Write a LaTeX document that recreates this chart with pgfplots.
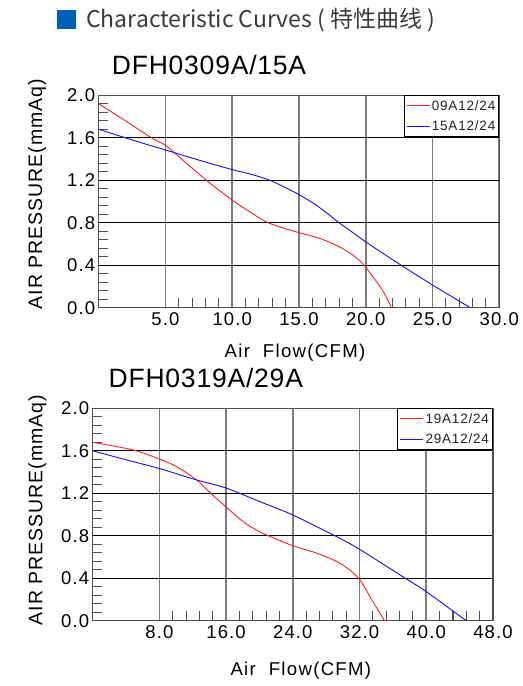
\documentclass[border=0pt]{standalone}
\usepackage{pgfplots}
\pgfplotsset{compat=1.18}
\usepackage{fontspec}
\setmainfont{Liberation Sans}
\newfontfamily\cjk{Noto Sans CJK SC}
\definecolor{hdrblue}{HTML}{0060B8}
\definecolor{hdrtext}{HTML}{3A3A3A}
\definecolor{vgrid}{HTML}{7C7C7C}
\definecolor{frame}{HTML}{505050}
\definecolor{cred}{HTML}{FF2020}
\definecolor{cblue}{HTML}{1010FF}
\definecolor{lgtext}{HTML}{222222}
\pgfplotsset{
  fanaxis/.style={
    scale only axis,
    height=212.4pt,
    ymin=0, ymax=2.0,
    ytick={0,0.4,0.8,1.2,1.6,2.0},
    minor y tick num=4,
    tick pos=left,
    tick align=inside,
    major tick length=0pt,
    minor tick length=9.5pt,
    xmajorgrids, ymajorgrids,
    x grid style={vgrid, line width=1.7pt},
    y grid style={black, line width=0.9pt},
    axis line style={frame, line width=1.4pt},
    minor tick style={frame, line width=1.1pt},
    /pgf/number format/assume math mode=true,
    /pgf/number format/.cd, fixed, fixed zerofill, precision=1, /pgfplots/.cd,
    tick label style={font=\fontsize{18.5}{18.5}\selectfont\addfontfeature{LetterSpace=6}},
    xticklabel style={yshift=-1pt},
    xlabel style={font=\fontsize{18.6}{18.6}\selectfont\addfontfeature{LetterSpace=7}},
    ylabel style={font=\fontsize{19.5}{19.5}\selectfont\addfontfeature{LetterSpace=5}},
    title style={font=\fontsize{26.5}{26.5}\selectfont\addfontfeature{LetterSpace=3}, anchor=west},
    legend cell align=left,
    legend style={draw=black, line width=1pt, fill=white,
      font=\fontsize{13.5}{13.5}\selectfont\addfontfeature{LetterSpace=6},
      text=lgtext,
      at={(rel axis cs:1,1)}, anchor=north east, inner xsep=2pt, inner ysep=3pt, row sep=6pt,
      nodes={inner sep=1.5pt}},
    legend image code/.code={\draw[#1, line width=1.1pt] (0pt,0pt) -- (23pt,0pt);},
  }
}
\begin{document}
\begin{tikzpicture}
\path (0,0) rectangle (514pt,686pt);
% header
\fill[hdrblue] (57pt,686pt-29.5pt) rectangle (75.5pt,686pt-10.5pt);
\node[anchor=west, text=hdrtext, inner sep=0pt, font=\cjk\fontsize{23}{23}\selectfont] at (86pt,686pt-20.5pt) {Characteristic Curves ( 特性曲线 )};

% top chart
\begin{axis}[fanaxis,
  at={(98.7pt,378.3pt)}, anchor=south west,
  width=400.6pt,
  xmin=0, xmax=30,
  xtick={5,10,15,20,25,30},
  minor x tick num=4,
  title={DFH0309A/15A},
  title style={at={(axis description cs:0.024,1.112)}},
  xlabel={Air\ \ Flow(CFM)},
  xlabel style={at={(axis description cs:0.49,-0.213)}, anchor=center},
  ylabel={AIR PRESSURE(mmAq)},
  ylabel style={at={(axis description cs:-0.154,0.535)}, anchor=center},
]
\addplot[draw=cred, line width=0.9pt, smooth, tension=0.5] coordinates {
(0,1.92) (2,1.76) (3.95,1.60) (5,1.53) (5.7,1.455) (8.06,1.20) (10,1.014)
(11.3,0.904) (12.78,0.795) (15.02,0.706) (16.5,0.655) (18.0,0.575) (19.1,0.49) (19.87,0.40) (20.6,0.28) (21.24,0.167) (21.94,0)
};
\addlegendentry{09A12/24}
\addplot[draw=cblue, line width=0.9pt, smooth, tension=0.5] coordinates {
(0,1.68) (2.5,1.58) (5,1.485) (7.5,1.39) (10,1.30) (11,1.27) (12,1.235) (13,1.19) (14,1.13)
(15,1.065) (16,0.99) (17,0.90) (18,0.80) (19,0.71) (20,0.62) (22.24,0.433) (24.92,0.22) (27.83,0)
};
\addlegendentry{15A12/24}
\end{axis}

% bottom chart
\begin{axis}[fanaxis,
  at={(92.7pt,65.3pt)}, anchor=south west,
  width=400.3pt,
  xmin=0, xmax=48,
  xtick={8,16,24,32,40,48},
  minor x tick num=4,
  title={DFH0319A/29A},
  title style={at={(axis description cs:0.031,1.114)}},
  xlabel={Air\ \ Flow(CFM)},
  xlabel style={at={(axis description cs:0.52,-0.237)}, anchor=center},
  ylabel={AIR PRESSURE(mmAq)},
  ylabel style={at={(axis description cs:-0.138,0.52)}, anchor=center},
]
\addplot[draw=cred, line width=0.9pt, smooth, tension=0.5] coordinates {
(0,1.68) (4.88,1.607) (8.08,1.52) (10.08,1.45) (12.48,1.325) (14.08,1.205) (16.08,1.065)
(18.08,0.93) (20.08,0.835) (22,0.77) (24.0,0.706) (26.88,0.635) (29.68,0.54) (31.88,0.40) (33.48,0.195) (35.0,0)
};
\addlegendentry{19A12/24}
\addplot[draw=cblue, line width=0.9pt, smooth, tension=0.5] coordinates {
(0,1.60) (4,1.515) (8.08,1.431) (12.48,1.325) (16.08,1.247) (20.08,1.12) (24.0,0.995)
(29.28,0.79) (32.0,0.672) (37.48,0.40) (40.0,0.273) (44.8,0)
};
\addlegendentry{29A12/24}
\end{axis}
\end{tikzpicture}
\end{document}
